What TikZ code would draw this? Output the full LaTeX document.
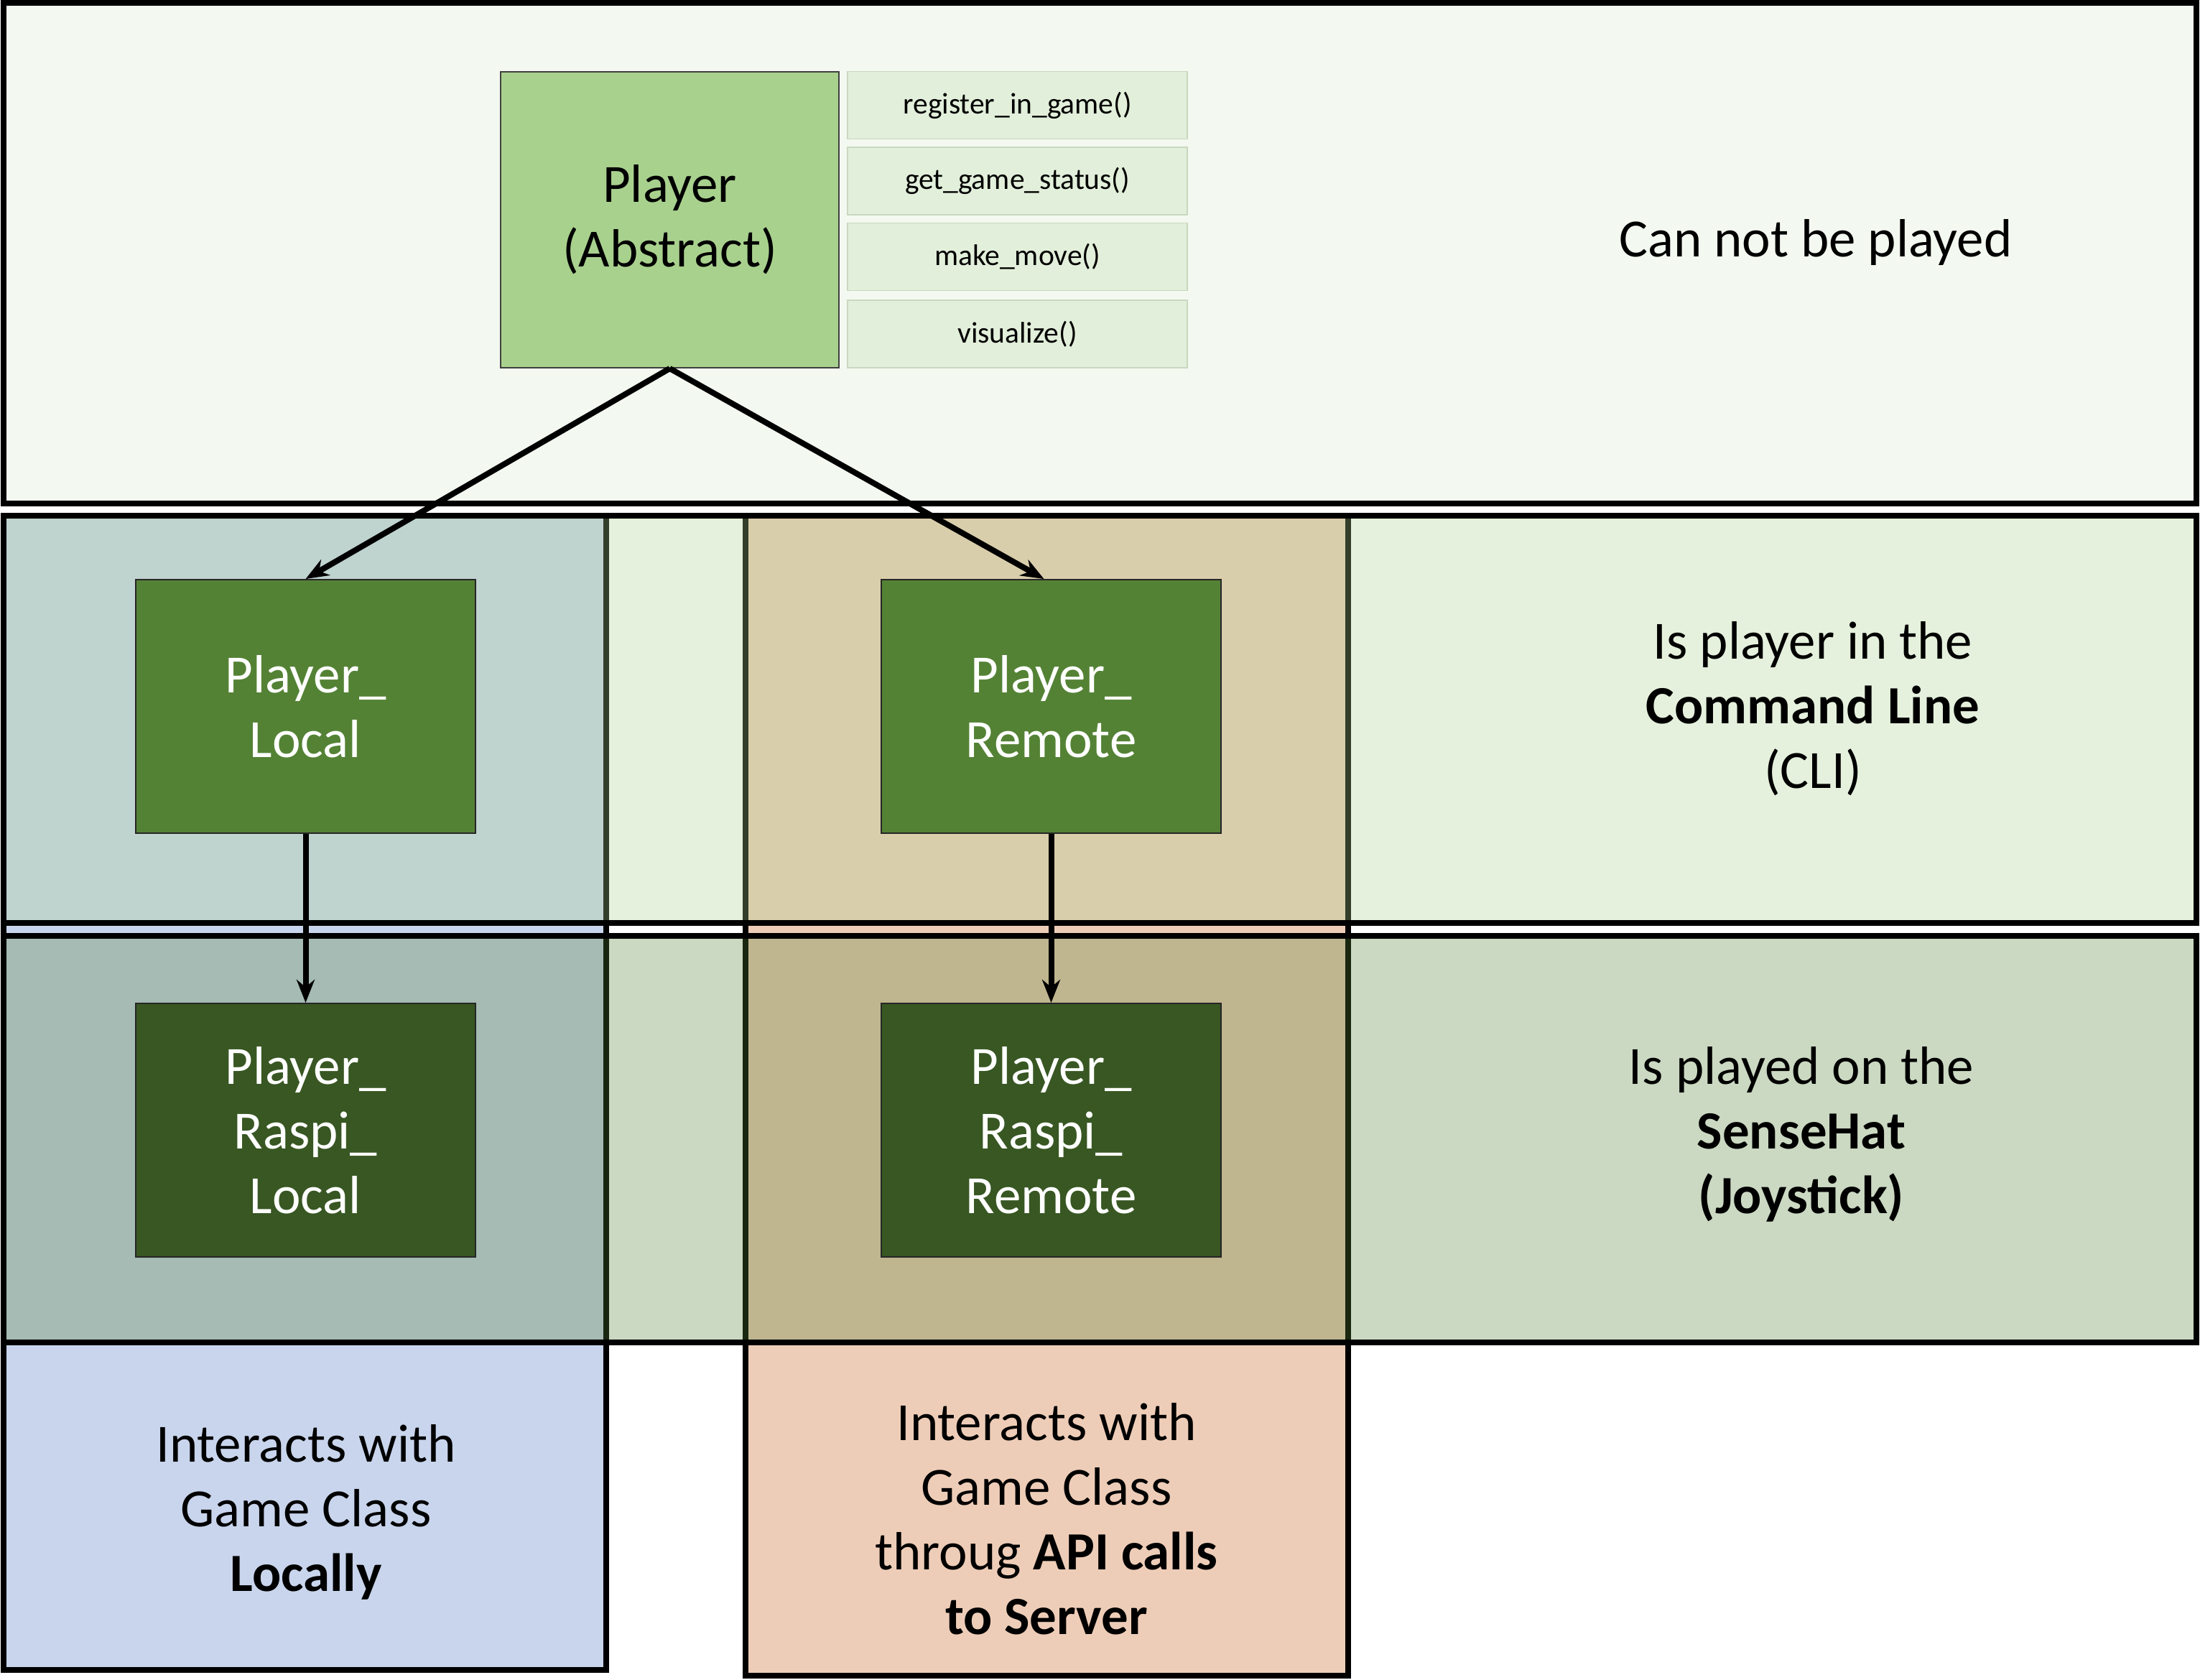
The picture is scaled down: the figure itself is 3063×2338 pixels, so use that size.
\documentclass[tikz,border=0pt]{standalone}
\usepackage{fontspec}
\setmainfont{Carlito}
\usepackage{xcolor}
\usepackage{tikz}
\usetikzlibrary{arrows.meta}
\definecolor{topfill}{HTML}{F3F8F0}
\definecolor{cliband}{HTML}{A9D18E}
\definecolor{hatband}{HTML}{548235}
\definecolor{localcol}{HTML}{C9D5EC}
\definecolor{remotecol}{HTML}{EECDB8}
\definecolor{absfill}{HTML}{A9D18E}
\definecolor{methfill}{HTML}{E2EFDA}
\definecolor{methline}{HTML}{C9D8BF}
\definecolor{cligreen}{HTML}{548235}
\definecolor{raspigreen}{HTML}{385723}
\tikzset{
  band/.style={draw=black, line width=0.08cm, fill opacity=0.3},
  colbox/.style={draw=black, line width=0.08cm},
  abs/.style={draw=black!75, line width=0.5pt, fill=absfill, minimum width=4.71cm, minimum height=4.12cm,
    inner sep=0pt, align=center, font=\fontsize{21.3}{25.6}\selectfont},
  meth/.style={draw=methline, line width=0.5pt, fill=methfill, minimum width=4.73cm, minimum height=0.94cm,
    inner sep=0pt, font=\fontsize{11.8}{14}\selectfont},
  cls/.style={draw=black!85, line width=0.5pt, text=white, minimum width=4.73cm, minimum height=3.53cm,
    inner sep=0pt, align=center, font=\fontsize{21.3}{25.6}\selectfont},
  lab/.style={align=center, font=\fontsize{21.3}{25.6}\selectfont},
  arr/.style={-{Stealth[length=0.32cm,width=0.25cm]}, line width=0.08cm},
}
\begin{document}
\begin{tikzpicture}[x=0.01cm,y=-0.01cm]
  \useasboundingbox (0,0) rectangle (3063,2338);
  % columns: local / remote
  \draw[colbox,fill=localcol] (5,718) rectangle (844,2325);
  \draw[colbox,fill=remotecol] (1038,718) rectangle (1877,2333);
  % bands
  \draw[colbox,fill=topfill] (5,4) rectangle (3058,701);
  \draw[band,fill=cliband] (5,718) rectangle (3058,1285);
  \draw[band,fill=hatband] (5,1303) rectangle (3058,1869);
  % classes
  \node[abs] (player) at (932.5,306) {Player\\(Abstract)};
  \node[meth] (reg) at (1416.5,146.5) {register\_in\_game()};
  \node[meth] (status) at (1416.5,252) {get\_game\_status()};
  \node[meth] (move) at (1416.5,357.5) {make\_move()};
  \node[meth] (vis) at (1416.5,465) {visualize()};
  \node[cls,fill=cligreen] (local) at (425.5,983.5) {Player\_\\Local};
  \node[cls,fill=cligreen] (remote) at (1463.5,983.5) {Player\_\\Remote};
  \node[cls,fill=raspigreen] (rlocal) at (425.5,1573.5) {Player\_\\Raspi\_\\Local};
  \node[cls,fill=raspigreen] (rremote) at (1463.5,1573.5) {Player\_\\Raspi\_\\Remote};
  % inheritance
  \draw[arr] (player.south) -- (local.north);
  \draw[arr] (player.south) -- ([xshift=-0.1cm]remote.north);
  \draw[arr] (local.south) -- (rlocal.north);
  \draw[arr] (remote.south) -- (rremote.north);
  % descriptions
  \node[lab] (toplab) at (2528,338) {Can not be played};
  \node[lab] (clilab) at (2524,987) {Is player in the\\\textbf{Command Line}\\(CLI)};
  \node[lab] (hatlab) at (2508,1579) {Is played on the\\\textbf{SenseHat}\\\textbf{(Joystick)}};
  \node[lab] (loclab) at (426,2105) {Interacts with\\Game Class\\\textbf{Locally}};
  \node[lab] (remlab) at (1457,2115) {Interacts with\\Game Class\\throug \textbf{API calls}\\\textbf{to Server}};
\end{tikzpicture}
\end{document}
